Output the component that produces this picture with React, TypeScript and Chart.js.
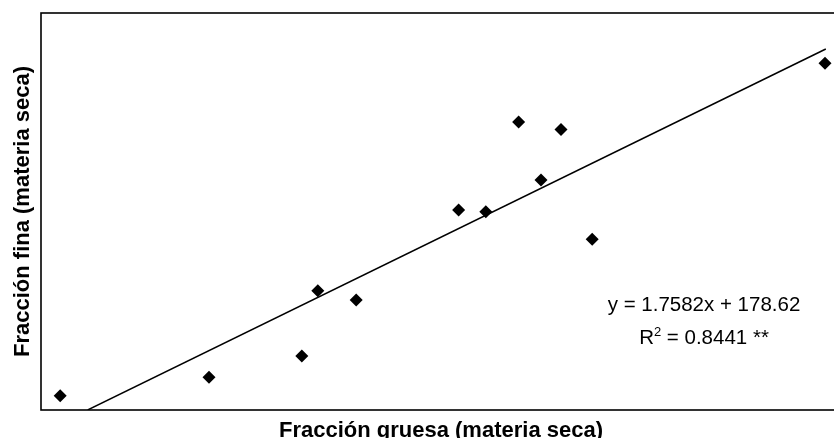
import React, { useEffect, useRef } from "react";
import { Chart, registerables } from "chart.js";

Chart.register(...registerables);

// Data
const xValues = [24, 210, 326, 346, 394, 522, 556, 597, 625, 650, 689, 980];
const yValues = [345, 428, 524, 817, 775, 1180, 1172, 1575, 1315, 1542, 1048, 1839];

// Regression line (from the equation in the chart)
const slope = 1.7582;
const intercept = 178.62;
const trendX = [58.4, 981];

const X_MIN = 0;
const X_MAX = 1000;
const Y_MIN = 281;
const Y_MAX = 2065;

const xTitle = "Fracción gruesa (materia seca)";
const yTitle = "Fracción fina (materia seca)";
const eqLine = "y = 1.7582x + 178.62";
const r2Label = "R";
const r2Sup = "2";
const r2Rest = " = 0.8441 **";

const FONT = "'Liberation Sans', Arial, sans-serif";

const decorPlugin = {
  id: "decor",
  afterDraw(chart: any) {
    const { ctx, chartArea } = chart;
    const { left, top, right, bottom } = chartArea;
    ctx.save();
    // box
    ctx.strokeStyle = "#000";
    ctx.lineWidth = 1.6;
    ctx.strokeRect(left, top, right - left, bottom - top);

    ctx.fillStyle = "#000";
    // x title
    ctx.font = `bold 22px ${FONT}`;
    ctx.textAlign = "center";
    ctx.textBaseline = "alphabetic";
    ctx.fillText(xTitle, (left + right) / 2, 437);
    // y title
    ctx.save();
    ctx.translate(28.5, (top + bottom) / 2);
    ctx.rotate(-Math.PI / 2);
    ctx.fillText(yTitle, 0, 0);
    ctx.restore();

    // equation
    const cx = 704;
    ctx.font = `20.5px ${FONT}`;
    ctx.textAlign = "center";
    ctx.fillText(eqLine, cx, 311);
    // R^2 line
    ctx.textAlign = "left";
    ctx.font = `20.5px ${FONT}`;
    const wR = ctx.measureText(r2Label).width;
    const wRest = ctx.measureText(r2Rest).width;
    ctx.font = `13px ${FONT}`;
    const wS = ctx.measureText(r2Sup).width;
    const total = wR + wS + wRest;
    let x = cx - total / 2;
    const base2 = 344;
    ctx.font = `20.5px ${FONT}`;
    ctx.fillText(r2Label, x, base2);
    x += wR;
    ctx.font = `13px ${FONT}`;
    ctx.fillText(r2Sup, x, base2 - 8);
    x += wS;
    ctx.font = `20.5px ${FONT}`;
    ctx.fillText(r2Rest, x, base2);
    ctx.restore();
  },
};

export default function App() {
  const ref = useRef<HTMLCanvasElement | null>(null);
  useEffect(() => {
    if (!ref.current) return;
    const points = xValues.map((x, i) => ({ x, y: yValues[i] }));
    const trend = trendX.map((x) => ({ x, y: slope * x + intercept }));
    const chart = new Chart(ref.current, {
      type: "scatter",
      data: {
        datasets: [
          {
            data: trend,
            showLine: true,
            borderColor: "#000",
            borderWidth: 1.5,
            pointRadius: 0,
            fill: false,
          } as any,
          {
            data: points,
            pointStyle: "rectRot",
            pointRadius: 6.5,
            pointBackgroundColor: "#000",
            pointBorderColor: "#000",
            pointBorderWidth: 0,
          } as any,
        ],
      },
      options: {
        responsive: false,
        animation: false,
        layout: { padding: { left: 41, top: 13, right: 7, bottom: 28 } },
        plugins: { legend: { display: false }, tooltip: { enabled: false } },
        scales: {
          x: { type: "linear", min: X_MIN, max: X_MAX, display: false },
          y: { type: "linear", min: Y_MIN, max: Y_MAX, display: false },
        },
      },
      plugins: [decorPlugin],
    });
    return () => chart.destroy();
  }, []);
  return (
    <div style={{ position: "fixed", left: 0, top: 0, width: 834, height: 438, overflow: "hidden", background: "#fff" }}>
      <canvas ref={ref} width={848} height={438} style={{ display: "block" }} />
    </div>
  );
}
